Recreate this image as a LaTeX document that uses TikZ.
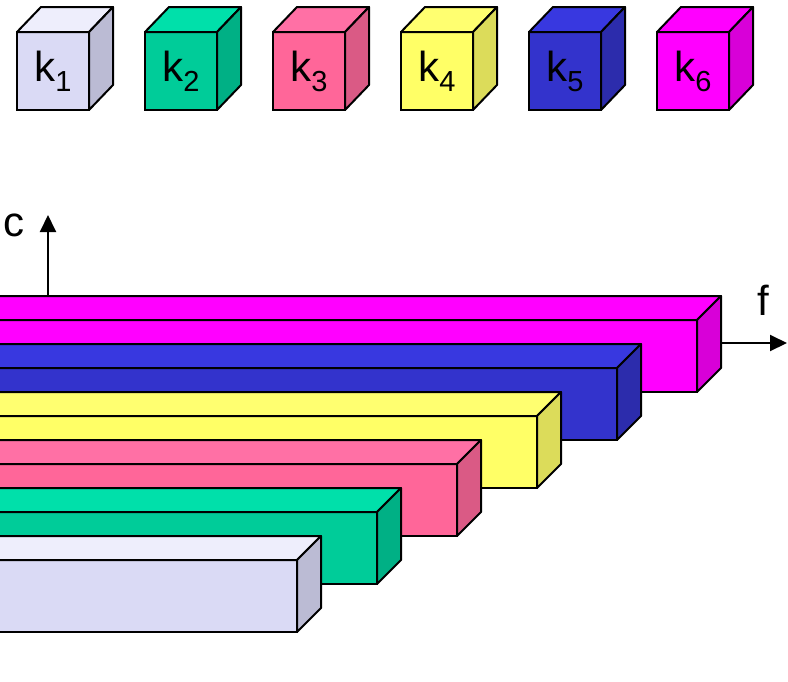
\documentclass[tikz,border=0pt]{standalone}
\usepackage{fontspec}
\setmainfont{Liberation Sans}
\usepackage{tikz}
\usetikzlibrary{arrows.meta}
\definecolor{figlav}{RGB}{218,218,245}
\definecolor{figlavtop}{RGB}{238,238,252}
\definecolor{figlavside}{RGB}{187,187,212}
\definecolor{figgreen}{RGB}{0,204,153}
\definecolor{figgreentop}{RGB}{0,224,170}
\definecolor{figgreenside}{RGB}{0,176,133}
\definecolor{figpink}{RGB}{255,102,153}
\definecolor{figpinktop}{RGB}{255,112,165}
\definecolor{figpinkside}{RGB}{218,90,133}
\definecolor{figyellow}{RGB}{255,255,102}
\definecolor{figyellowtop}{RGB}{255,255,112}
\definecolor{figyellowside}{RGB}{220,220,90}
\definecolor{figblue}{RGB}{51,51,204}
\definecolor{figbluetop}{RGB}{56,56,224}
\definecolor{figblueside}{RGB}{44,44,172}
\definecolor{figmag}{RGB}{255,0,255}
\definecolor{figmagtop}{RGB}{255,0,255}
\definecolor{figmagside}{RGB}{216,0,216}

\begin{document}
\begin{tikzpicture}[
      x=1pt, y=-1pt, line width=2pt,
      face/.style={draw, rectangle, inner sep=0pt, outer sep=0pt, font=\fontsize{42}{50}\selectfont},
      edge/.style={draw, line join=round},
      axis/.style={-{Triangle[length=17pt, width=16pt]}},
      lbl/.style={font=\fontsize{42}{50}\selectfont}
    ]
      \def\ksub#1{\raisebox{-10pt}{\fontsize{29}{29}\selectfont #1}}
      \clip (0,0) rectangle (788,681);

      % cubes
      \node[face, fill=figlav, minimum width=72, minimum height=78] (k1) at (53,71) {\raisebox{-3pt}{k\ksub{1}}};
      \draw[edge, fill=figlavtop] (k1.north west) -- ++(24,-25) -- ++(72,0) -- (k1.north east) -- cycle;
      \draw[edge, fill=figlavside] (k1.north east) -- ++(24,-25) -- ++(0,78) -- (k1.south east) -- cycle;

      \node[face, fill=figgreen, minimum width=72, minimum height=78] (k2) at (181,71) {\raisebox{-3pt}{k\ksub{2}}};
      \draw[edge, fill=figgreentop] (k2.north west) -- ++(24,-25) -- ++(72,0) -- (k2.north east) -- cycle;
      \draw[edge, fill=figgreenside] (k2.north east) -- ++(24,-25) -- ++(0,78) -- (k2.south east) -- cycle;

      \node[face, fill=figpink, minimum width=72, minimum height=78] (k3) at (309,71) {\raisebox{-3pt}{k\ksub{3}}};
      \draw[edge, fill=figpinktop] (k3.north west) -- ++(24,-25) -- ++(72,0) -- (k3.north east) -- cycle;
      \draw[edge, fill=figpinkside] (k3.north east) -- ++(24,-25) -- ++(0,78) -- (k3.south east) -- cycle;

      \node[face, fill=figyellow, minimum width=72, minimum height=78] (k4) at (437,71) {\raisebox{-3pt}{k\ksub{4}}};
      \draw[edge, fill=figyellowtop] (k4.north west) -- ++(24,-25) -- ++(72,0) -- (k4.north east) -- cycle;
      \draw[edge, fill=figyellowside] (k4.north east) -- ++(24,-25) -- ++(0,78) -- (k4.south east) -- cycle;

      \node[face, fill=figblue, minimum width=72, minimum height=78] (k5) at (565,71) {\raisebox{-3pt}{k\ksub{5}}};
      \draw[edge, fill=figbluetop] (k5.north west) -- ++(24,-25) -- ++(72,0) -- (k5.north east) -- cycle;
      \draw[edge, fill=figblueside] (k5.north east) -- ++(24,-25) -- ++(0,78) -- (k5.south east) -- cycle;

      \node[face, fill=figmag, minimum width=72, minimum height=78] (k6) at (693,71) {\raisebox{-3pt}{k\ksub{6}}};
      \draw[edge, fill=figmagtop] (k6.north west) -- ++(24,-25) -- ++(72,0) -- (k6.north east) -- cycle;
      \draw[edge, fill=figmagside] (k6.north east) -- ++(24,-25) -- ++(0,78) -- (k6.south east) -- cycle;

      % axes
      \coordinate (corig) at (48,296);
      \coordinate (ctip) at (48,215);
      \draw[axis] (corig) -- (ctip);
      \node[lbl] (clbl) at (14,225) {c};
      \coordinate (forig) at (722,343);
      \coordinate (ftip) at (787,343);
      \draw[axis] (forig) -- (ftip);
      \node[lbl] (flbl) at (763,300) {f};

      % bars, back to front
      \node[face, fill=figmag, minimum width=727, minimum height=72, anchor=south east] (b6) at (697,392) {};
      \draw[edge, fill=figmagtop] (b6.north west) -- ++(24,-24) -- ([shift={(24,-24)}]b6.north east) -- (b6.north east) -- cycle;
      \draw[edge, fill=figmagside] (b6.north east) -- ++(24,-24) -- ([shift={(24,-24)}]b6.south east) -- (b6.south east) -- cycle;

      \node[face, fill=figblue, minimum width=647, minimum height=72, anchor=south east] (b5) at (617,440) {};
      \draw[edge, fill=figbluetop] (b5.north west) -- ++(24,-24) -- ([shift={(24,-24)}]b5.north east) -- (b5.north east) -- cycle;
      \draw[edge, fill=figblueside] (b5.north east) -- ++(24,-24) -- ([shift={(24,-24)}]b5.south east) -- (b5.south east) -- cycle;

      \node[face, fill=figyellow, minimum width=567, minimum height=72, anchor=south east] (b4) at (537,488) {};
      \draw[edge, fill=figyellowtop] (b4.north west) -- ++(24,-24) -- ([shift={(24,-24)}]b4.north east) -- (b4.north east) -- cycle;
      \draw[edge, fill=figyellowside] (b4.north east) -- ++(24,-24) -- ([shift={(24,-24)}]b4.south east) -- (b4.south east) -- cycle;

      \node[face, fill=figpink, minimum width=487, minimum height=72, anchor=south east] (b3) at (457,536) {};
      \draw[edge, fill=figpinktop] (b3.north west) -- ++(24,-24) -- ([shift={(24,-24)}]b3.north east) -- (b3.north east) -- cycle;
      \draw[edge, fill=figpinkside] (b3.north east) -- ++(24,-24) -- ([shift={(24,-24)}]b3.south east) -- (b3.south east) -- cycle;

      \node[face, fill=figgreen, minimum width=407, minimum height=72, anchor=south east] (b2) at (377,584) {};
      \draw[edge, fill=figgreentop] (b2.north west) -- ++(24,-24) -- ([shift={(24,-24)}]b2.north east) -- (b2.north east) -- cycle;
      \draw[edge, fill=figgreenside] (b2.north east) -- ++(24,-24) -- ([shift={(24,-24)}]b2.south east) -- (b2.south east) -- cycle;

      \node[face, fill=figlav, minimum width=327, minimum height=72, anchor=south east] (b1) at (297,632) {};
      \draw[edge, fill=figlavtop] (b1.north west) -- ++(24,-24) -- ([shift={(24,-24)}]b1.north east) -- (b1.north east) -- cycle;
      \draw[edge, fill=figlavside] (b1.north east) -- ++(24,-24) -- ([shift={(24,-24)}]b1.south east) -- (b1.south east) -- cycle;
    \end{tikzpicture}
\end{document}
